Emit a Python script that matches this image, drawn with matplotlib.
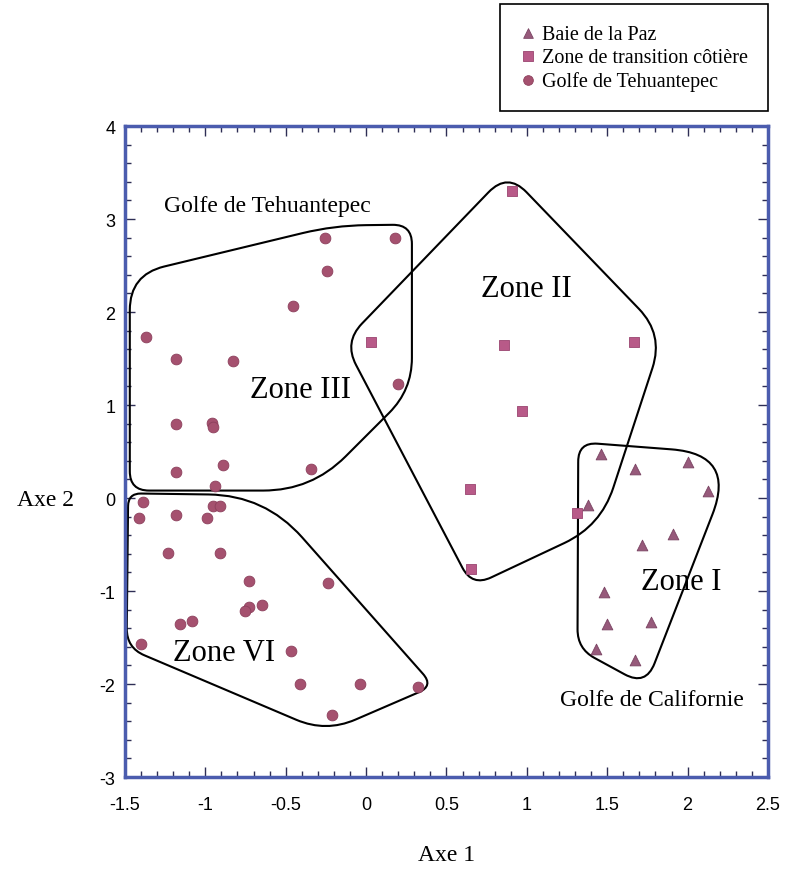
import numpy as np
import matplotlib.pyplot as plt
from matplotlib.path import Path
from matplotlib.patches import PathPatch
from matplotlib.ticker import MultipleLocator

plt.rcParams['axes.unicode_minus'] = False

# Sample scores on the first two axes
baie_x = [1.46, 1.675, 2.0, 2.13, 1.38, 1.91, 1.715, 1.48, 1.50, 1.77, 1.43, 1.675]
baie_y = [0.47, 0.31, 0.39, 0.08, -0.07, -0.39, -0.50, -1.01, -1.35, -1.33, -1.62, -1.74]

transition_x = [0.905, 0.03, 0.86, 1.665, 0.967, 0.646, 1.315, 0.652]
transition_y = [3.30, 1.68, 1.64, 1.68, 0.94, 0.10, -0.16, -0.76]

tehuantepec_x = [-0.255, 0.18, -0.245, -0.455, -1.37, -1.18, -0.83, 0.197, -1.18, -0.96,
                 -0.95, -0.89, -1.18, -0.34, -0.94, -1.39,
                 -1.41, -1.18, -0.99, -0.95, -0.91, -1.23, -0.91, -0.73, -0.24, -0.73,
                 -0.755, -0.65, -1.16, -1.08, -1.40, -0.47, -0.41, -0.04, 0.32, -0.21]
tehuantepec_y = [2.80, 2.80, 2.44, 2.06, 1.73, 1.50, 1.47, 1.23, 0.80, 0.81,
                 0.76, 0.35, 0.28, 0.31, 0.13, -0.04,
                 -0.22, -0.18, -0.22, -0.09, -0.09, -0.59, -0.59, -0.89, -0.91, -1.17,
                 -1.22, -1.15, -1.36, -1.32, -1.57, -1.65, -2.0, -2.0, -2.03, -2.33]

# Hand-drawn zone outlines: (x, y, corner radius)
zone1_outline = [(1.32, 0.60, 0.12), (2.30, 0.47, 0.40), (1.74, -2.02, 0.15), (1.315, -1.62, 0.12)]
zone2_outline = [(0.88, 3.50, 0.17), (1.85, 1.76, 0.22), (1.46, -0.30, 0.25),
                 (0.66, -0.95, 0.13), (-0.137, 1.676, 0.16)]
zone3_outline = [(-1.47, 2.40, 0.22), (-0.20, 2.93, 0.2), (0.285, 2.94, 0.12),
                 (0.285, 1.16, 0.2), (-0.34, 0.08, 0.3), (-1.47, 0.08, 0.12)]
zone6_outline = [(-1.48, 0.05, 0.08), (-0.63, 0.03, 0.35), (0.42, -2.02, 0.1),
                 (-0.25, -2.52, 0.2), (-1.49, -1.61, 0.12)]

zone_labels = ['Zone I', 'Zone II', 'Zone III', 'Zone VI']
zone_label_x = [1.96, 1.0, -0.405, -0.885]
zone_label_y = [-0.90, 2.25, 1.17, -1.66]

serif = ['Liberation Serif', 'DejaVu Serif']
sans = ['Liberation Sans', 'DejaVu Sans']


def rounded_outline(outline, ky):
    # round each corner with a quadratic curve, working in a space where
    # x and y units have the same on-screen length
    pts = np.array([(x, y * ky) for x, y, _ in outline])
    radii = [r for _, _, r in outline]
    n = len(pts)
    verts, codes = [], []
    for i in range(n):
        p0, p1, p2 = pts[i - 1], pts[i], pts[(i + 1) % n]
        d1 = p0 - p1
        d2 = p2 - p1
        l1, l2 = np.hypot(*d1), np.hypot(*d2)
        r = min(radii[i], l1 / 2, l2 / 2)
        a = p1 + d1 / l1 * r
        b = p1 + d2 / l2 * r
        verts.append(a)
        codes.append(Path.MOVETO if i == 0 else Path.LINETO)
        verts += [p1, b]
        codes += [Path.CURVE3, Path.CURVE3]
    verts.append(verts[0])
    codes.append(Path.LINETO)
    verts = np.array(verts)
    verts[:, 1] /= ky
    return Path(verts, codes)


fig = plt.figure(figsize=(7.87, 8.79), dpi=100)
ax = fig.add_axes([0.1588, 0.1149, 0.817, 0.7406])

ax.set_xlim(-1.5, 2.5)
ax.set_ylim(-3, 4)

# aspect of one data unit in y relative to x on screen
bbox = ax.get_window_extent()
ky = (bbox.height / 7) / (bbox.width / 4)

for outline in [zone1_outline, zone2_outline, zone3_outline, zone6_outline]:
    ax.add_patch(PathPatch(rounded_outline(outline, ky), facecolor='none',
                           edgecolor='black', lw=1.5, zorder=2))

ax.scatter(tehuantepec_x, tehuantepec_y, marker='o', s=60, color='#a5516f',
           edgecolor='#8c3f5c', linewidth=0.6, zorder=3, label='Golfe de Tehuantepec')
ax.scatter(transition_x, transition_y, marker='s', s=55, color='#b85a88',
           edgecolor='#9a4570', linewidth=0.6, zorder=3, label='Zone de transition côtière')
ax.scatter(baie_x, baie_y, marker='^', s=60, color='#975a7b',
           edgecolor='#7a4463', linewidth=0.6, zorder=3, label='Baie de la Paz')

for label, x, y in zip(zone_labels, zone_label_x, zone_label_y):
    ax.text(x, y, label, ha='center', va='center', fontsize=22, family=serif, zorder=4)

ax.text(-1.26, 3.15, 'Golfe de Tehuantepec', ha='left', va='center', fontsize=17, family=serif)
ax.text(1.78, -2.17, 'Golfe de Californie', ha='center', va='center', fontsize=17, family=serif)

# axes frame and ticks
for spine in ax.spines.values():
    spine.set_color('#4b5cae')
    spine.set_linewidth(2.5)
ax.xaxis.set_major_locator(MultipleLocator(0.5))
ax.xaxis.set_minor_locator(MultipleLocator(0.1))
ax.yaxis.set_major_locator(MultipleLocator(1))
ax.yaxis.set_minor_locator(MultipleLocator(0.2))
ax.tick_params(which='both', direction='in', top=True, right=True, color='#2e2e55', width=1)
ax.tick_params(which='major', length=7)
ax.tick_params(which='minor', length=4)
ax.tick_params(axis='x', pad=14, labelsize=13)
ax.tick_params(axis='y', pad=7, labelsize=13)
ax.set_xticks(np.arange(-1.5, 2.51, 0.5))
ax.set_xticklabels(['-1.5', '-1', '-0.5', '0', '0.5', '1', '1.5', '2', '2.5'])
for lbl in ax.get_xticklabels() + ax.get_yticklabels():
    lbl.set_family(sans)

ax.set_xlabel('Axe 1', fontsize=17, family=serif, labelpad=22)
ax.set_ylabel('Axe 2', fontsize=17, family=serif, rotation=0, va='center', ha='center')
ax.yaxis.set_label_coords(-0.124, 0.426)

# legend box in the upper right corner
handles, labels = ax.get_legend_handles_labels()
order = [2, 1, 0]
leg = fig.legend([handles[i] for i in order], [labels[i] for i in order],
                 loc='upper right', bbox_to_anchor=(0.976, 0.994),
                 prop={'family': serif, 'size': 14.5}, frameon=True, fancybox=False,
                 edgecolor='black', framealpha=1, borderpad=1.0, labelspacing=0.2,
                 handlelength=0.8, handletextpad=0.3, markerscale=0.9, borderaxespad=0)
leg.get_frame().set_linewidth(1.2)

fig.savefig('out.png', dpi=100)
